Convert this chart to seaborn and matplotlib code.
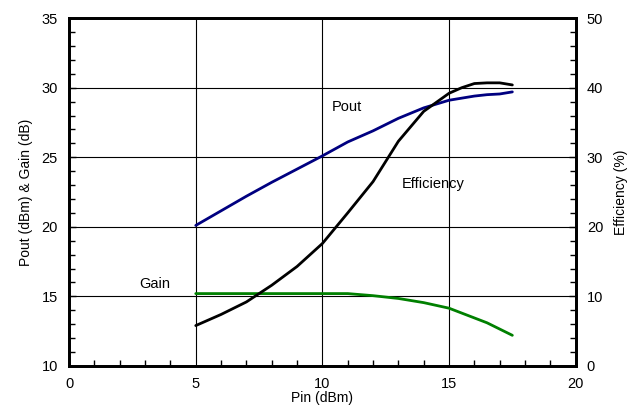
import matplotlib
matplotlib.use("Agg")
import matplotlib.pyplot as plt
import seaborn as sns
from matplotlib.ticker import MultipleLocator

pin = [5, 6, 7, 8, 9, 10, 11, 12, 13, 14, 15, 15.5, 16, 16.5, 17, 17.5]
pout = [20.1, 21.15, 22.2, 23.2, 24.15, 25.1, 26.1, 26.9, 27.8, 28.55, 29.1, 29.25, 29.4, 29.5, 29.55, 29.7]
gain = [15.2, 15.2, 15.2, 15.2, 15.2, 15.2, 15.2, 15.05, 14.85, 14.55, 14.15, 13.8, 13.45, 13.1, 12.65, 12.2]
eff = [5.8, 7.4, 9.2, 11.6, 14.3, 17.6, 22.0, 26.5, 32.3, 36.6, 39.2, 40.0, 40.6, 40.7, 40.7, 40.4]

sns.set_style("white")
plt.rcParams['font.family'] = ['Liberation Sans', 'DejaVu Sans']
plt.rcParams.update({"text.color": "black", "axes.labelcolor": "black",
                     "xtick.color": "black", "ytick.color": "black"})

fig, ax = plt.subplots(figsize=(6.34, 4.13), dpi=100)
fig.subplots_adjust(left=0.109, right=0.908, top=0.956, bottom=0.114)
ax2 = ax.twinx()

sns.lineplot(x=pin, y=pout, ax=ax, color="#000080", linewidth=2)
sns.lineplot(x=pin, y=gain, ax=ax, color="#008000", linewidth=2)
sns.lineplot(x=pin, y=eff, ax=ax2, color="black", linewidth=2)

ax.set_xlim(0, 20)
ax.set_ylim(10, 35)
ax2.set_ylim(0, 50)
ax.xaxis.set_major_locator(MultipleLocator(5))
ax.xaxis.set_minor_locator(MultipleLocator(1))
ax.yaxis.set_major_locator(MultipleLocator(5))
ax.yaxis.set_minor_locator(MultipleLocator(1))
ax2.yaxis.set_major_locator(MultipleLocator(10))
ax2.yaxis.set_minor_locator(MultipleLocator(2))

ax.grid(True, which="major", color="black", linewidth=0.8)
ax.set_axisbelow(True)

for a in (ax, ax2):
    for s in a.spines.values():
        s.set_linewidth(2)
        s.set_color("black")

ax.tick_params(which="both", direction="in", top=False, labelsize=10.5, pad=8)
ax.tick_params(which="major", length=5, width=1)
ax.tick_params(which="minor", length=4, width=1, left=True, bottom=True)
ax2.tick_params(which="both", direction="in", labelsize=10.5, pad=8)
ax2.tick_params(which="major", length=5, width=1)
ax2.tick_params(which="minor", length=4, width=1, right=True)

ax.set_xlabel("Pin (dBm)", fontsize=10, labelpad=0)
ax.set_ylabel("Pout (dBm) & Gain (dB)", fontsize=10, labelpad=6)
ax2.set_ylabel("Efficiency (%)", fontsize=10, labelpad=8)

ax.text(10.97, 28.6, "Pout", fontsize=10.5, ha="center", va="center")
ax.text(14.36, 23.1, "Efficiency", fontsize=10.5, ha="center", va="center")
ax.text(3.4, 15.9, "Gain", fontsize=10.5, ha="center", va="center")

fig.savefig("out.png", dpi=100)
